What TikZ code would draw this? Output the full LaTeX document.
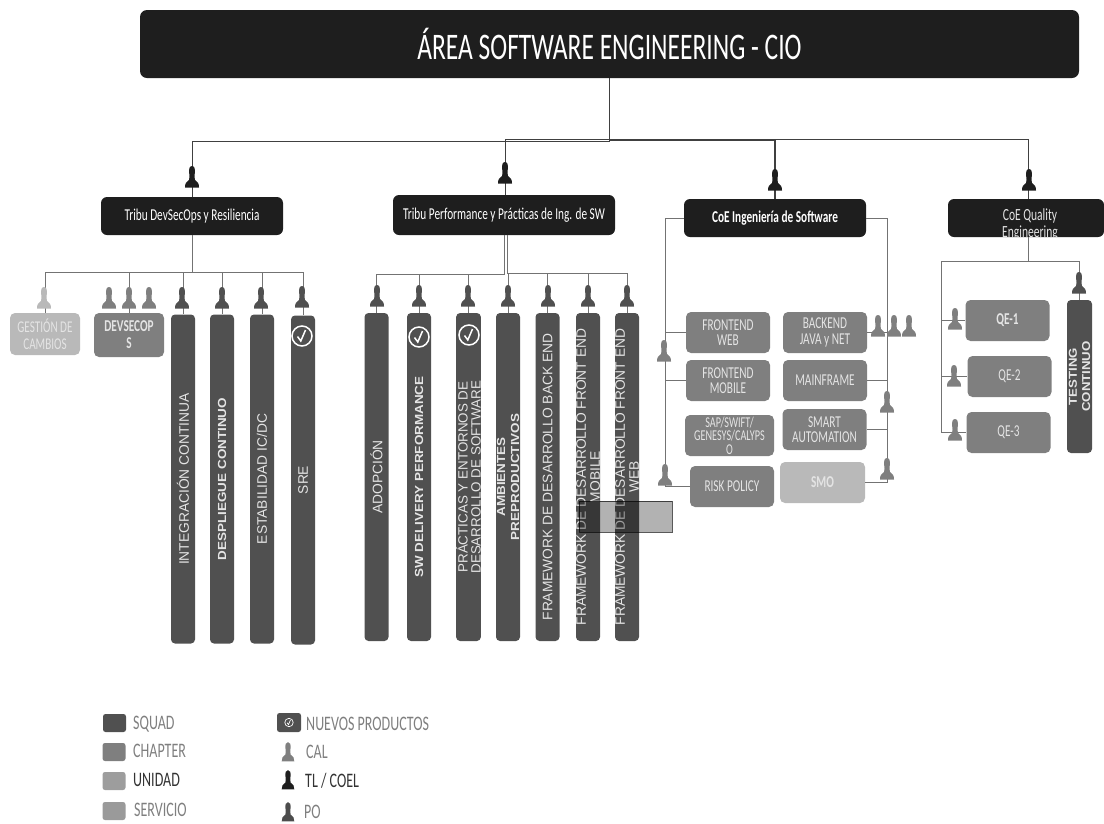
\documentclass[tikz,border=0pt]{standalone}
\usepackage{fontspec}
\setmainfont{Carlito}
\newfontfamily\condfont[FakeStretch=0.68]{Carlito}
\newfontfamily\barfont{Liberation Sans}
\newfontfamily\widebarfont[FakeStretch=1.15]{Liberation Sans Bold}
\usetikzlibrary{calc}
\definecolor{tlblack}{HTML}{1E1E1E}
\definecolor{squadgray}{HTML}{505050}
\definecolor{chaptergray}{HTML}{7F7F7F}
\definecolor{unidadgray}{HTML}{B9B9B9}
\definecolor{serviciogray}{HTML}{9A9A9A}
\definecolor{capeText}{HTML}{E4E4E4}
\tikzset{
  areabox/.style={draw=none,fill=tlblack,rounded corners=7pt,inner sep=0pt,text=white,minimum width=939,minimum height=68,font=\condfont\fontsize{37.5}{40}\selectfont},
  tribubox/.style={draw=none,fill=tlblack,rounded corners=6pt,inner sep=0pt,text=white,minimum height=38,align=center,font=\condfont\fontsize{16.6}{17}\selectfont},
  squadbar/.style={draw=none,fill=squadgray,rounded corners=4pt,inner sep=0pt,rotate=90,minimum height=24,text=capeText,align=center,font=\barfont\fontsize{13.8}{14}\selectfont},
  boldbar/.style={squadbar,font=\widebarfont\fontsize{11.7}{14}\selectfont},
  chapterbox/.style={draw=none,fill=chaptergray,rounded corners=5pt,inner sep=0pt,text=capeText,minimum width=84,minimum height=41,align=center,font=\condfont\fontsize{16.6}{15.6}\selectfont},
  legendbox/.style={draw=none,rounded corners=2.5pt,minimum width=23,minimum height=18,inner sep=0pt},
  legendtext/.style={anchor=west,inner sep=0pt,text=chaptergray,font=\condfont\fontsize{20.6}{21}\selectfont},
  link/.style={draw=black!55,line width=.8pt},
  toplink/.style={draw=black!75,line width=.8pt},
  person/.pic={
    \fill[#1] (0,-11) .. controls (2.6,-11) and (3.2,-8) .. (2.8,-4) .. controls (2.5,-1) and (2.2,1) .. (3,3)
      .. controls (6,4.5) and (7,7) .. (7,10.5) -- (-7,10.5) .. controls (-7,7) and (-6,4.5) .. (-3,3)
      .. controls (-2.2,1) and (-2.5,-1) .. (-2.8,-4) .. controls (-3.2,-8) and (-2.6,-11) .. (0,-11) -- cycle;
  },
  nuevo/.pic={
    \draw[white] (0,0) circle (10);
    \draw[white] (-4.5,0.5) -- (-1.2,5) -- (3.5,-6);
  }
}
\begin{document}
\begin{tikzpicture}[x=1pt,y=-1pt]
  \useasboundingbox (0,0) rectangle (1104,823);
  \node[areabox] (area) at (609.5,44) {ÁREA SOFTWARE ENGINEERING - CIO};

  \node[tribubox,minimum width=182] (tribuDev) at (192,216) {Tribu DevSecOps y Resiliencia};
  \node[tribubox,minimum width=222,minimum height=40] (tribuPerf) at (504,215) {Tribu Performance y Prácticas de Ing. de SW};
  \node[tribubox,minimum width=182,font=\condfont\bfseries\fontsize{16.6}{17}\selectfont] (tribuSoft) at (775,218) {CoE Ingeniería de Software};
  \node[tribubox,minimum width=156] (tribuQual) at (1026,218) {};

  \coordinate (busDev) at (192,141);
  \coordinate (busPerf) at (505,139);
  \coordinate (busSoft) at (775,140);
  \coordinate (busQual) at (1028,139);
  \draw[toplink] (area.south) |- (busDev) -- (tribuDev.north);
  \draw[toplink] (area.south) |- (busPerf) -- (tribuPerf.north -| busPerf);
  \draw[toplink,line width=1.2pt] (area.south) |- (busSoft) -- (tribuSoft.north);
  \draw[toplink] (area.south) |- (busQual) -- (tribuQual.north -| busQual);
  \pic at (192,177) {person=tlblack};
  \pic at (505,173) {person=tlblack};
  \pic at (775,180) {person=tlblack};
  \pic at (1029,180) {person=tlblack};

  \begin{scope}
    \clip (948,199) rectangle (1104,236.5);
    \node[align=center,inner sep=0pt,text=capeText,font=\condfont\fontsize{17}{17}\selectfont] (tribuQualText) at (1030,225) {CoE Quality\\Engineering};
  \end{scope}

  \node[chapterbox,fill=unidadgray,minimum width=70,minimum height=42,font=\condfont\fontsize{16.4}{17}\selectfont] (cambios) at (45,334) {GESTIÓN DE\\CAMBIOS};
  \node[chapterbox,minimum width=70,minimum height=44,font=\condfont\bfseries\fontsize{16.6}{17}\selectfont] (devsecops) at (129,335) {DEVSECOP\\S};
  \node[squadbar,minimum width=329] (integracion) at (183,479) {INTEGRACIÓN CONTINUA};
  \node[boldbar,minimum width=329] (despliegue) at (222,479) {DESPLIEGUE CONTINUO};
  \node[squadbar,minimum width=329] (estabilidad) at (262,479) {ESTABILIDAD IC/DC};
  \node[squadbar,minimum width=329] (sre) at (303,480) {SRE};

  \coordinate (busResil) at (192,272);
  \draw[link] (tribuDev.south) -- (busResil) -| (cambios.north);
  \draw[link] (busResil) -| (devsecops.north);
  \draw[link] (busResil) -| (integracion.east);
  \draw[link] (busResil) -| (despliegue.east);
  \draw[link] (busResil) -| (estabilidad.east);
  \draw[link] (busResil) -| (sre.east);
  \pic at (44,298) {person=unidadgray};
  \pic at (109,298) {person=chaptergray};
  \pic at (129,298) {person=chaptergray};
  \pic at (149,298) {person=chaptergray};
  \pic at (182,298) {person=squadgray};
  \pic at (222,298) {person=squadgray};
  \pic at (261,298) {person=squadgray};
  \pic at (302,297) {person=squadgray};
  \pic[line width=1.5pt] at (302,336) {nuevo};

  \node[squadbar,minimum width=328] (adopcion) at (376.5,477) {ADOPCIÓN};
  \node[boldbar,minimum width=328] (delivery) at (419,477) {SW DELIVERY PERFORMANCE};
  \node[squadbar,minimum width=328,font=\barfont\fontsize{13.4}{13}\selectfont] (practicas) at (468.5,477) {PRÁCTICAS Y ENTORNOS DE\\DESARROLLO DE SOFTWARE};
  \node[boldbar,minimum width=328] (ambientes) at (508,477) {AMBIENTES\\PREPRODUCTIVOS};
  \node[squadbar,minimum width=328] (backend) at (547.5,477) {FRAMEWORK DE DESARROLLO BACK END};
  \node[squadbar,minimum width=328] (frontmobile) at (588,477) {FRAMEWORK DE DESARROLLO FRONT END\\MOBILE};
  \node[squadbar,minimum width=328] (frontweb) at (627,477) {FRAMEWORK DE DESARROLLO  FRONT END\\WEB};

  \coordinate (busAdop) at (504,274);
  \coordinate (busFrame) at (507,273);
  \draw[link] (tribuPerf.south) -- (busAdop) -| (adopcion.east);
  \draw[link] (busAdop) -| (delivery.east);
  \draw[link] (busAdop) -| (practicas.east);
  \draw[link] (tribuPerf.south -| busFrame) -- (busFrame) -| (ambientes.east);
  \draw[link] (busFrame) -| (backend.east);
  \draw[link] (busFrame) -| (frontmobile.east);
  \draw[link] (busFrame) -| (frontweb.east);
  \pic at (377,296) {person=squadgray};
  \pic at (419,296) {person=squadgray};
  \pic at (468,296) {person=squadgray};
  \pic at (508,296) {person=squadgray};
  \pic at (548,296) {person=squadgray};
  \pic at (588,296) {person=squadgray};
  \pic at (627,296) {person=squadgray};
  \pic[line width=1.5pt] at (419,337) {nuevo};
  \pic[line width=1.5pt] at (469,335) {nuevo};

  \node[draw=black!65,fill=black!30,line width=1pt,blend mode=multiply,minimum width=93,minimum height=31,inner sep=0pt] (cintaGris) at (625.5,516.5) {};

  \node[chapterbox] (frontendWeb) at (728,332.5) {FRONTEND\\WEB};
  \node[chapterbox] (frontendMobile) at (728,380.5) {FRONTEND\\MOBILE};
  \node[chapterbox,minimum width=89,font=\condfont\fontsize{15}{13.6}\selectfont] (sapSwift) at (729.5,435.5) {SAP/SWIFT/\\GENESYS/CALYPS\\O};
  \node[chapterbox] (riskPolicy) at (732,486.5) {RISK POLICY};
  \node[chapterbox] (backendJava) at (825,332.5) {BACKEND\\JAVA y NET};
  \node[chapterbox] (mainframe) at (825,380.5) {MAINFRAME};
  \node[chapterbox] (smart) at (824.5,429.5) {SMART\\AUTOMATION};
  \node[chapterbox,fill=unidadgray,minimum width=85,font=\condfont\bfseries\fontsize{16.6}{15.6}\selectfont] (smo) at (822.5,482.5) {SMO};

  \coordinate (ladoIzq) at (665,218);
  \coordinate (ladoDer) at (887,218);
  \draw[link] (tribuSoft.west |- ladoIzq) -- (ladoIzq) |- (riskPolicy.west);
  \draw[link] (ladoIzq) |- (frontendWeb.west);
  \draw[link] (ladoIzq) |- (frontendMobile.west);
  \draw[link] (tribuSoft.east |- ladoDer) -- (ladoDer) |- (smo.east);
  \draw[link] (ladoDer) |- (backendJava.east);
  \draw[link] (ladoDer) |- (mainframe.east);
  \draw[link] (ladoDer) |- (smart.east);
  \pic at (664,351) {person=chaptergray};
  \pic at (665,475) {person=chaptergray};
  \pic at (878,326) {person=chaptergray};
  \pic at (894,326) {person=chaptergray};
  \pic at (909,326) {person=chaptergray};
  \pic at (887,402) {person=chaptergray};
  \pic at (887,469) {person=chaptergray};

  \node[chapterbox,font=\condfont\bfseries\fontsize{16.6}{15.6}\selectfont] (qeUno) at (1007.5,320.5) {QE-1};
  \node[chapterbox] (qeDos) at (1009.5,376.5) {QE-2};
  \node[chapterbox] (qeTres) at (1008.5,432.5) {QE-3};
  \node[boldbar,minimum width=153,minimum height=25,font=\widebarfont\fontsize{11.5}{13.2}\selectfont] (testing) at (1079.5,376.5) {TESTING\\CONTINUO};

  \coordinate (busTest) at (1028,261);
  \coordinate (ladoQual) at (941,261);
  \draw[link] (tribuQual.south -| busTest) -- (busTest) -- (ladoQual) |- (qeTres.west);
  \draw[link] (busTest) -| (testing.east);
  \draw[link] (ladoQual) |- (qeUno.west);
  \draw[link] (ladoQual) |- (qeDos.west);
  \pic at (955,319) {person=chaptergray};
  \pic at (954,376) {person=chaptergray};
  \pic at (955,430) {person=chaptergray};
  \pic at (1079,283) {person=squadgray};

  \node[legendbox,fill=squadgray] (legSquad) at (114.5,723) {};
  \node[legendbox,fill=chaptergray] (legChapter) at (114,752) {};
  \node[legendbox,fill=unidadgray!85!black] (legUnidad) at (114,781) {};
  \node[legendbox,fill=serviciogray] (legServicio) at (114,811) {};
  \node[legendtext] (txtSquad) at (133,724) {SQUAD};
  \node[legendtext] (txtChapter) at (133,751) {CHAPTER};
  \node[legendtext,text=black!80] (txtUnidad) at (133,780) {UNIDAD};
  \node[legendtext] (txtServicio) at (134,810) {SERVICIO};
  \node[legendbox,fill=squadgray,minimum width=24,minimum height=19] (legNuevo) at (289,722.5) {};
  \pic[scale=.42,line width=.7pt] at (289,722.5) {nuevo};
  \pic[scale=.9] at (288,752) {person=chaptergray};
  \pic[scale=.9] at (288,780) {person=tlblack};
  \pic[scale=.9] at (288,812) {person=black!70};
  \node[legendtext] (txtNuevo) at (306,724) {NUEVOS PRODUCTOS};
  \node[legendtext] (txtCal) at (306,752) {CAL};
  \node[legendtext,text=black!80] (txtCoel) at (305,781) {TL / COEL};
  \node[legendtext] (txtPo) at (304,812) {PO};
\end{tikzpicture}
\end{document}
